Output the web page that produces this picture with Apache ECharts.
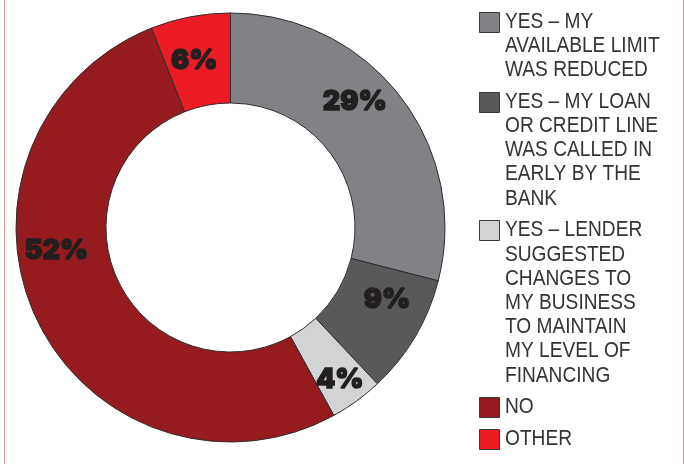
<!DOCTYPE html>
<html>
<head>
<meta charset="utf-8">
<script src="https://cdn.jsdelivr.net/npm/echarts@6/dist/echarts.min.js"></script>
<style>
  html, body { margin: 0; padding: 0; background: #ffffff; }
  #chart { width: 684px; height: 464px; }
</style>
</head>
<body>
<div id="chart"></div>
<script>
// Survey answers and their shares (percent)
const categories = [
  'YES – MY AVAILABLE LIMIT WAS REDUCED',
  'YES – MY LOAN OR CREDIT LINE WAS CALLED IN EARLY BY THE BANK',
  'YES – LENDER SUGGESTED CHANGES TO MY BUSINESS TO MAINTAIN MY LEVEL OF FINANCING',
  'NO',
  'OTHER'
];
const shares = [29, 9, 4, 52, 6];

// Legend wording, broken into lines
const legendLines = [
  ['YES – MY', 'AVAILABLE LIMIT', 'WAS REDUCED'],
  ['YES – MY LOAN', 'OR CREDIT LINE', 'WAS CALLED IN', 'EARLY BY THE', 'BANK'],
  ['YES – LENDER', 'SUGGESTED', 'CHANGES TO', 'MY BUSINESS', 'TO MAINTAIN', 'MY LEVEL OF', 'FINANCING'],
  ['NO'],
  ['OTHER']
];

const sliceColors = ['#808285', '#58595b', '#d1d3d4', '#951b1e', '#ed1c24'];

// ---- layout ----
const PIE_CENTER = [230.5, 227.5];
const PIE_RADIUS = [124.5, 214.5];

// per-slice nudges of the percentage labels away from the ring's mid-line
const labelNudge = [[-12, -20], [8, -15], [8, 13], [-18, -50], [-4, 3]];

// legend: stacked swatches with wrapped captions
const LINE_H = 24.2, ITEM_GAP = 7.6;
const legendGraphics = [];
let lineCenter = 21.5;
legendLines.forEach((lines, i) => {
  const top = Math.round(lineCenter - 10) + 0.5;
  legendGraphics.push({
    type: 'rect', silent: true,
    shape: { x: 479.5, y: top, width: 20, height: 20 },
    style: { fill: sliceColors[i], stroke: '#3a3a3a', lineWidth: 1 }
  });
  legendGraphics.push({
    type: 'text', silent: true,
    x: 505, y: lineCenter - LINE_H / 2, scaleX: 0.87,
    style: {
      text: lines.join('\n'),
      font: '22px "Liberation Sans", Arial, sans-serif',
      fill: '#333333',
      lineHeight: LINE_H,
      verticalAlign: 'top',
      align: 'left'
    }
  });
  lineCenter += lines.length * LINE_H + ITEM_GAP;
});

// thin frame rules at the left and right edges
const frameGraphics = [4.5, 683.5].map(x => ({
  type: 'line', silent: true,
  shape: { x1: x, y1: 0, x2: x, y2: 464 },
  style: { stroke: '#e3959b', lineWidth: 1 }
}));

const chart = echarts.init(document.getElementById('chart'), null, { renderer: 'canvas' });

chart.setOption({
  animation: false,
  backgroundColor: '#ffffff',
  graphic: { elements: frameGraphics.concat(legendGraphics) },
  series: [{
    type: 'pie',
    center: PIE_CENTER,
    radius: PIE_RADIUS,
    startAngle: 90,
    clockwise: true,
    silent: true,
    avoidLabelOverlap: false,
    itemStyle: { borderColor: '#2f2f2f', borderWidth: 1 },
    label: {
      show: true,
      position: 'inside',
      formatter: '{c}%',
      color: '#231f20',
      fontFamily: 'Inter, "DejaVu Sans", sans-serif',
      fontWeight: 900,
      fontSize: 27,
      textBorderColor: '#231f20',
      textBorderWidth: 1.4
    },
    labelLine: { show: false },
    labelLayout: params => ({ dx: labelNudge[params.dataIndex][0], dy: labelNudge[params.dataIndex][1] }),
    emphasis: { disabled: true },
    data: categories.map((name, i) => ({
      name,
      value: shares[i],
      itemStyle: { color: sliceColors[i] }
    }))
  }]
});
</script>
</body>
</html>
